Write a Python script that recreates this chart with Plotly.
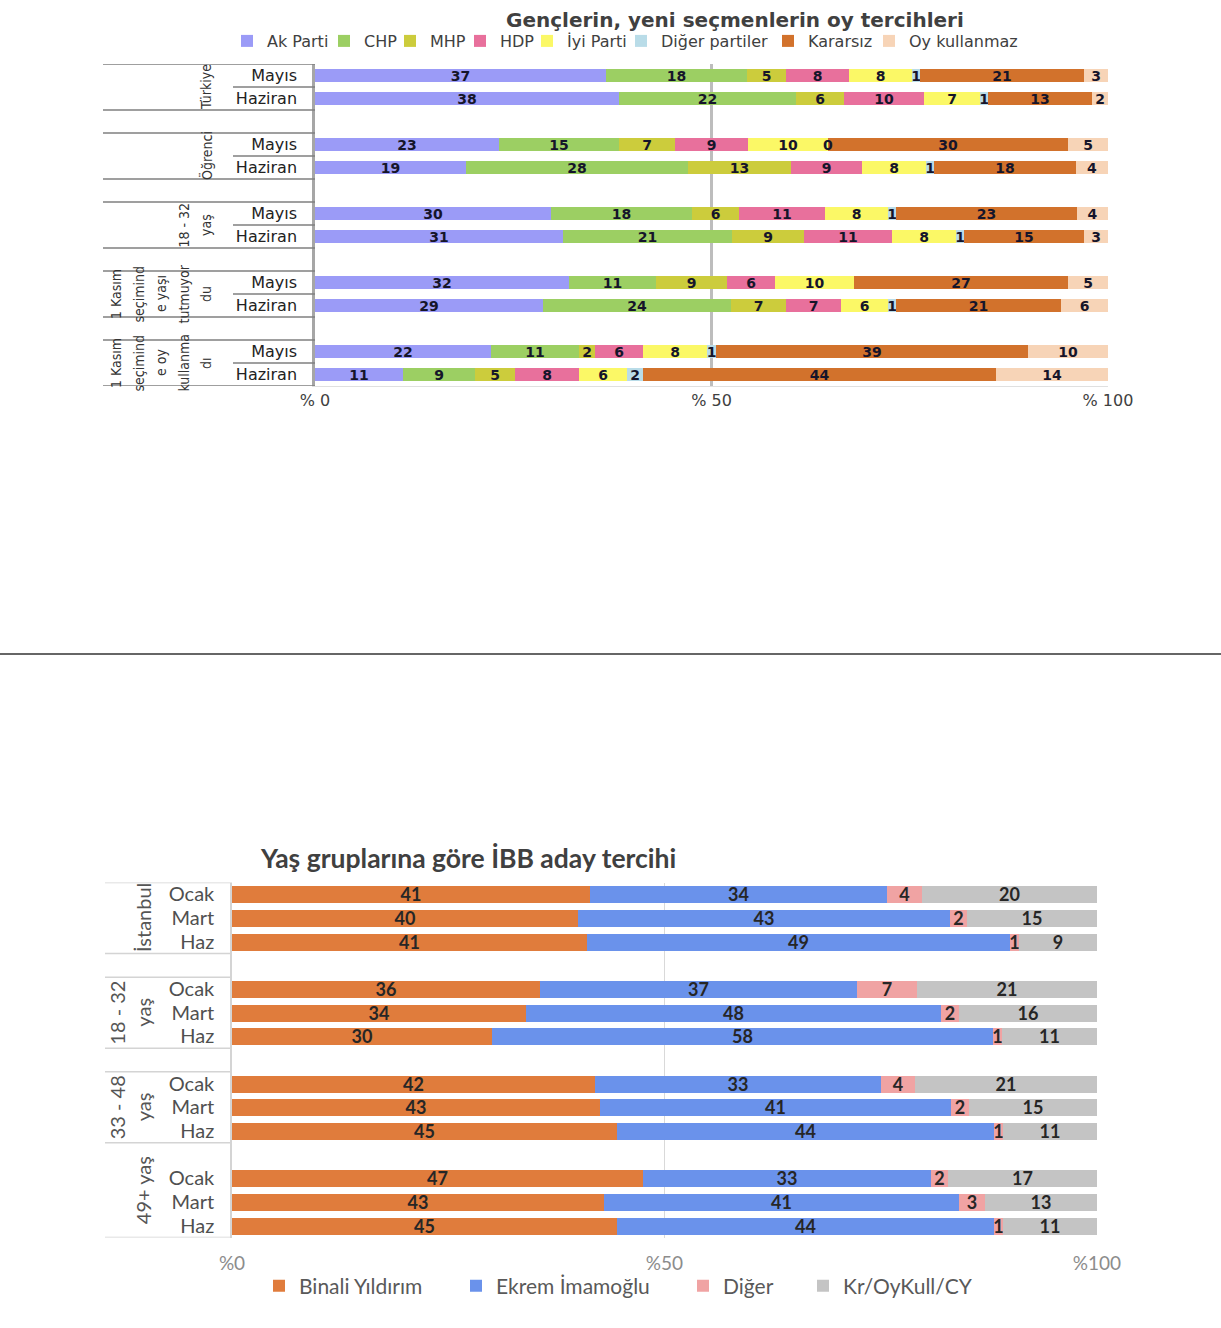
import plotly.graph_objects as go

# ---------------- DATA: chart 1 ----------------
title1 = "Gençlerin, yeni seçmenlerin oy tercihleri"
groups1 = [
    ["Türkiye"],
    ["Öğrenci"],
    ["18 - 32", "yaş"],
    ["1 Kasım", "seçimind", "e yaşı", "tutmuyor", "du"],
    ["1 Kasım", "seçimind", "e oy", "kullanma", "dı"],
]
periods1 = ["Mayıs", "Haziran"]
parties1 = ["Ak Parti", "CHP", "MHP", "HDP", "İyi Parti", "Diğer partiler", "Kararsız", "Oy kullanmaz"]
colors1 = ["#9b9bf7", "#9ccf63", "#cccc3c", "#e8709c", "#fbf866", "#b9dce8", "#d2722c", "#f7d4b7"]
# rows: group x period (Mayıs, Haziran)
ak_parti = [37, 38, 23, 19, 30, 31, 32, 29, 22, 11]
chp      = [18, 22, 15, 28, 18, 21, 11, 24, 11, 9]
mhp      = [5, 6, 7, 13, 6, 9, 9, 7, 2, 5]
hdp      = [8, 10, 9, 9, 11, 11, 6, 7, 6, 8]
iyi      = [8, 7, 10, 8, 8, 8, 10, 6, 8, 6]
diger1   = [1, 1, 0, 1, 1, 1, None, 1, 1, 2]
kararsiz = [21, 13, 30, 18, 23, 15, 27, 21, 39, 44]
oykull   = [3, 2, 5, 4, 4, 3, 5, 6, 10, 14]
series1 = [ak_parti, chp, mhp, hdp, iyi, diger1, kararsiz, oykull]
xticks1 = [0, 50, 100]
xticktext1 = ["% 0", "% 50", "% 100"]

# ---------------- DATA: chart 2 ----------------
title2 = "Yaş gruplarına göre İBB aday tercihi"
groups2 = [["İstanbul"], ["18 - 32", "yaş"], ["33 - 48", "yaş"], ["49+ yaş"]]
periods2 = ["Ocak", "Mart", "Haz"]
cands2 = ["Binali Yıldırım", "Ekrem İmamoğlu", "Diğer", "Kr/OyKull/CY"]
colors2 = ["#e07c3c", "#6a92eb", "#f0a3a3", "#c4c4c4"]
binali = [41, 40, 41, 36, 34, 30, 42, 43, 45, 47, 43, 45]
ekrem  = [34, 43, 49, 37, 48, 58, 33, 41, 44, 33, 41, 44]
diger2 = [4, 2, 1, 7, 2, 1, 4, 2, 1, 2, 3, 1]
kr     = [20, 15, 9, 21, 16, 11, 21, 15, 11, 17, 13, 11]
series2 = [binali, ekrem, diger2, kr]
xticks2 = [0, 50, 100]
xticktext2 = ["%0", "%50", "%100"]

# ---------------- LAYOUT HELPERS ----------------
W, H = 1221, 1328
def px(x): return x / W
def py(y): return 1 - y / H

# legend text start positions (px) for each legend entry
leg1_text_x = [267, 364, 430, 500, 567, 661, 808, 909]
leg2_text_x = [299, 496, 723, 843]
LEG_TEXT_OFFSET = 40

step1 = len(periods1) + 1
step2 = len(periods2) + 1
ypos1 = [g * step1 + r for g in range(len(groups1)) for r in range(len(periods1))]
ypos2 = [g * step2 + r for g in range(len(groups2)) for r in range(len(periods2))]
last_slot1 = max(ypos1)
last_slot2 = max(ypos2)
XMAX = 100.001

F1 = "DejaVu Sans"
FN = "Liberation Sans Narrow, DejaVu Sans Condensed, Arial Narrow, sans-serif"
F2 = "Lato, Roboto, sans-serif"

fig = go.Figure()
legends = {}
k = 0
for name, vals, col, tx in zip(parties1, series1, colors1, leg1_text_x):
    k += 1
    lid = "legend" if k == 1 else f"legend{k}"
    legends[lid] = dict(x=px(tx - LEG_TEXT_OFFSET), y=py(41), F=F1, size=16, color="#404040")
    fig.add_trace(go.Bar(
        y=ypos1, x=vals, orientation="h", name=name, marker=dict(color=col, line=dict(width=0)),
        text=["" if v is None else str(v) for v in vals], textposition="inside",
        insidetextanchor="middle", textangle=0, constraintext="none",
        textfont=dict(family=F1, size=14, color="#15152a", weight="bold"),
        width=0.57, xaxis="x", yaxis="y", legend=lid, cliponaxis=False,
        hoverinfo="skip"))

for name, vals, col, tx in zip(cands2, series2, colors2, leg2_text_x):
    k += 1
    lid = f"legend{k}"
    legends[lid] = dict(x=px(tx - LEG_TEXT_OFFSET), y=py(1286), F=F2, size=21, color="#595959")
    fig.add_trace(go.Bar(
        y=ypos2, x=vals, orientation="h", name=name, marker=dict(color=col, line=dict(width=0)),
        text=[str(v) for v in vals], textposition="inside",
        insidetextanchor="middle", textangle=0, constraintext="none",
        textfont=dict(family=F2, size=18, color="#262626", weight="bold"),
        width=0.72, xaxis="x2", yaxis="y2", legend=lid, cliponaxis=False,
        hoverinfo="skip"))

annotations = []
shapes = []

# zero-value labels (Plotly hides text of zero-length bars)
for i in range(len(ypos1)):
    tot = sum(s[i] for s in series1 if s[i] is not None)
    cum = 0
    for s in series1:
        v = s[i]
        if v is None:
            continue
        if v == 0:
            annotations.append(dict(x=cum / tot * 100, y=ypos1[i], xref="x", yref="y", text="0",
                                    showarrow=False, font=dict(family=F1, size=14, color="#15152a", weight="bold")))
        cum += v

# group labels chart 1
for g, lines in enumerate(groups1):
    n = len(lines)
    for i, ln in enumerate(lines):
        cx = 206 - (n - 1 - i) * 22.5
        annotations.append(dict(x=px(cx), y=g * step1 + (len(periods1) - 1) / 2, xref="paper", yref="y",
                                text=ln, textangle=-90, showarrow=False, xanchor="center", yanchor="middle",
                                font=dict(family=FN, size=14, color="#333333")))
# group labels chart 2 (last group's cell is merged with the spacer row above it)
last2 = len(groups2) - 1
for g, lines in enumerate(groups2):
    n = len(lines)
    top = g * step2 - 0.5 - (1 if g == last2 else 0)
    bot = g * step2 - 0.5 + len(periods2)
    for i, ln in enumerate(lines):
        cx = 143 - (n - 1 - i) * 26
        annotations.append(dict(x=px(cx), y=(top + bot) / 2, xref="paper", yref="y2",
                                text=ln, textangle=-90, showarrow=False, xanchor="center", yanchor="middle",
                                font=dict(family=F2, size=20, color="#555555")))

# titles
annotations.append(dict(x=px(735), y=py(20), xref="paper", yref="paper", text=title1, showarrow=False,
                        xanchor="center", yanchor="middle",
                        font=dict(family=F1, size=20, color="#404040", weight="bold")))
annotations.append(dict(x=px(258), y=py(858), xref="paper", yref="paper", text=title2, showarrow=False,
                        xanchor="left", yanchor="middle",
                        font=dict(family=F2, size=26.5, color="#404040", weight="bold")))

# table lines chart 1
for g in range(len(groups1)):
    top = g * step1 - 0.5
    bot = top + len(periods1)
    for yy in (top, bot):
        shapes.append(dict(type="line", xref="paper", yref="y", x0=px(103), x1=px(315), y0=yy, y1=yy,
                           line=dict(color="#7f7f7f", width=1.5)))
    for r in range(1, len(periods1)):
        yy = top + r
        shapes.append(dict(type="line", xref="paper", yref="y", x0=px(233), x1=px(315), y0=yy, y1=yy,
                           line=dict(color="#7f7f7f", width=1.5)))
# table lines chart 2
for g in range(len(groups2)):
    top = g * step2 - 0.5
    bot = top + len(periods2)
    edges = (bot,) if g == last2 else (top, bot)
    for yy in edges:
        shapes.append(dict(type="line", xref="paper", yref="y2", x0=px(105), x1=px(232), y0=yy, y1=yy,
                           line=dict(color="#d4d4d4", width=1.5)))

# page separator
shapes.append(dict(type="line", xref="paper", yref="paper", x0=0, x1=1, y0=py(654), y1=py(654),
                   line=dict(color="#333333", width=1.5)))

legend_layout = {}
for lid, d in legends.items():
    legend_layout[lid] = dict(orientation="h", x=d["x"], xanchor="left", y=d["y"], yanchor="middle",
                              font=dict(family=d["F"], size=d["size"], color=d["color"]),
                              bgcolor="rgba(0,0,0,0)", borderwidth=0, itemwidth=30)

fig.update_layout(
    width=W, height=H, margin=dict(l=0, r=0, t=0, b=0, autoexpand=False),
    paper_bgcolor="white", plot_bgcolor="white",
    barmode="stack", barnorm="percent", bargap=0,
    showlegend=True,
    annotations=annotations, shapes=shapes,
    xaxis=dict(domain=[px(315), px(1108)], anchor="y", range=[0, XMAX], tickvals=xticks1, ticktext=xticktext1,
               showgrid=True, gridcolor="#bdbdbd", gridwidth=2.5, zeroline=False, automargin=False,
               showline=True, linecolor="#e0e0e0", linewidth=1, ticks="",
               tickfont=dict(family=F1, size=16, color="#404040")),
    yaxis=dict(domain=[py(386), py(64)], anchor="x", range=[last_slot1 + 0.5, -0.5], automargin=False,
               tickvals=ypos1, ticktext=[p for _ in groups1 for p in periods1],
               showgrid=False, zeroline=False, showline=True, linecolor="#a6a6a6", linewidth=2.5,
               ticks="", ticklabelstandoff=12,
               tickfont=dict(family=F1, size=16, color="#222222")),
    xaxis2=dict(domain=[px(232), px(1097)], anchor="y2", range=[0, XMAX], tickvals=xticks2, ticktext=xticktext2,
                showgrid=True, gridcolor="#d9d9d9", gridwidth=1, zeroline=False, automargin=False,
                showline=False, ticks="", ticklabelstandoff=12,
                tickfont=dict(family=F2, size=19, color="#8c8c8c")),
    yaxis2=dict(domain=[py(1237.5), py(882.5)], anchor="x2", range=[last_slot2 + 0.5, -0.5], automargin=False,
                tickvals=ypos2, ticktext=[p for _ in groups2 for p in periods2],
                showgrid=False, zeroline=False, showline=True, linecolor="#d4d4d4", linewidth=1.5,
                ticks="", ticklabelstandoff=12,
                tickfont=dict(family=F2, size=20, color="#505050")),
    **legend_layout,
)

fig.write_html("out.html", config={"displayModeBar": False},
               post_script="document.body.style.margin='0';document.body.style.overflow='hidden';")
